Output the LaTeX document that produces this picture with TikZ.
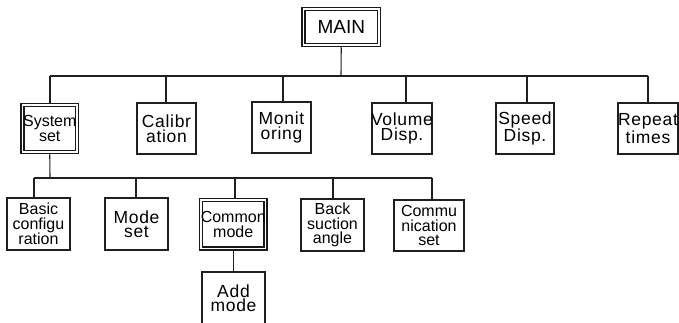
\documentclass[tikz,border=0pt]{standalone}
\usepackage{fontspec}
\setmainfont{Liberation Sans}
\newfontfamily\spacedfont[LetterSpace=4]{Liberation Sans}
\begin{document}
\begin{tikzpicture}[x=1pt,y=-1pt,
  conn/.style={line width=1.1pt, draw=black!88},
  box/.style={draw=black!88, line width=1.1pt, inner sep=0pt},
  dbox/.style={draw=black!90, inner sep=0pt, line width=1.3pt, double, double distance=1.9pt, outer sep=2.25pt},
  labA/.style={font=\spacedfont\fontsize{17.5}{14.5}\selectfont, align=center, inner sep=0pt},
  labB/.style={font=\fontsize{16}{14.5}\selectfont, align=center, inner sep=0pt},
  labM/.style={font=\fontsize{19}{20}\selectfont, align=center, inner sep=0pt}]
\clip (0,0) rectangle (679,322);
\fill[white] (0,0) rectangle (679,322);

% top
\node[dbox, minimum width=75.5pt, minimum height=36pt, label={[labM]center:MAIN}] (main) at (341.25,27) {};

% first level
\node[dbox, minimum width=54.5pt, minimum height=47pt, label={[labB]center:System\\set}] (sys) at (49.75,128.5) {};
\node[box, minimum width=59pt, minimum height=51pt, label={[labA]center:Calibr\\ation}] (cal) at (166.5,128.5) {};
\node[box, minimum width=59pt, minimum height=51pt, label={[labA]center:Monit\\oring}] (mon) at (281.5,127.5) {};
\node[box, minimum width=60pt, minimum height=51pt, label={[labA]center:Volume\\Disp.}] (vol) at (402,128.5) {};
\node[box, minimum width=58pt, minimum height=51pt, label={[labA]center:Speed\\Disp.}] (spd) at (525,128.5) {};
\node[box, minimum width=60pt, minimum height=51pt, label={[labA]center:Repeat\\times}] (rep) at (648,128.5) {};

% second level
\node[box, minimum width=63pt, minimum height=52pt, label={[labB]center:Basic\\configu\\ration}] (bas) at (38.5,224) {};
\node[box, minimum width=63pt, minimum height=52pt, label={[labA]center:Mode\\set}] (mod) at (136.5,224) {};
\node[dbox, minimum width=64.5pt, minimum height=48.5pt, label={[labB]center:Common\\mode}] (cmn) at (233.25,224.25) {};
\node[box, minimum width=63pt, minimum height=52pt, label={[labB]center:Back\\suction\\angle}] (bck) at (332.5,225) {};
\node[box, minimum width=70pt, minimum height=51pt, label={[labB]center:Commu\\nication\\set}] (com) at (429,225.5) {};

% third level
\node[box, minimum width=63pt, minimum height=64pt] (add) at (233.5,304) {};
\node[labA] (addt) at (233.5,298) {Add\\mode};

% connectors level 1
\coordinate (j0) at (341,76);
\coordinate (dsys) at (50,76);
\coordinate (dcal) at (166,76);
\coordinate (dmon) at (283,76);
\coordinate (dvol) at (406,76);
\coordinate (dspd) at (527,76);
\coordinate (drep) at (648,76);
\draw[conn] (main.south) -- (j0);
\draw[conn] (dsys) -- (drep);
\draw[conn] (dsys) -- (dsys |- sys.north);
\draw[conn] (dcal) -- (dcal |- cal.north);
\draw[conn] (dmon) -- (dmon |- mon.north);
\draw[conn] (dvol) -- (dvol |- vol.north);
\draw[conn] (dspd) -- (dspd |- spd.north);
\draw[conn] (drep) -- (drep |- rep.north);

% connectors level 2
\coordinate (j1) at (50,178);
\coordinate (dbas) at (34,178);
\coordinate (dmod) at (136,178);
\coordinate (dcmn) at (235,178);
\coordinate (dbck) at (333,178);
\coordinate (dcom) at (432,178);
\draw[conn] (sys.south) -- (j1);
\draw[conn] (dbas) -- (dcom);
\draw[conn] (dbas) -- (dbas |- bas.north);
\draw[conn] (dmod) -- (dmod |- mod.north);
\draw[conn] (dcmn) -- (dcmn |- cmn.north);
\draw[conn] (dbck) -- (dbck |- bck.north);
\draw[conn] (dcom) -- (dcom |- com.north);

% connector level 3
\draw[conn] (cmn.south) -- (cmn.south |- add.north);
\end{tikzpicture}
\end{document}
